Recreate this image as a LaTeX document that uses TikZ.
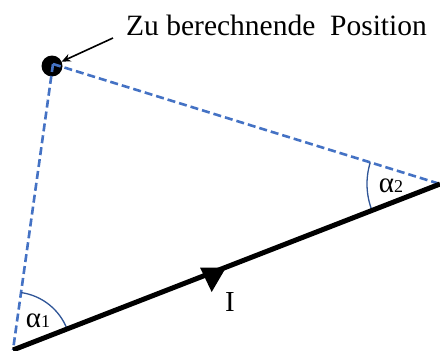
\documentclass[tikz,border=0pt]{standalone}
\usepackage{fontspec}
\setmainfont{Liberation Serif}
\usetikzlibrary{arrows.meta,calc}
\definecolor{dashblue}{HTML}{4472C4}
\definecolor{arcblue}{HTML}{2F5597}
\begin{document}
\begin{tikzpicture}[x=1pt,y=-1pt,
  dashline/.style={dashblue,line width=2.6pt,dash pattern=on 8pt off 4pt},
  anglearc/.style={arcblue,line width=1.3pt},
  lbl/.style={inner sep=0pt,font=\fontsize{29}{31}\selectfont}]
\useasboundingbox (0,0) rectangle (440,351);
\coordinate (A) at (13,350);
\coordinate (B) at (440,184);
\coordinate (P) at (53,64);
\node[circle,fill=black,minimum size=21pt,inner sep=0pt] (dot) at (52,66) {};
\draw[dashline] (P) -- (A);
\draw[dashline] (P) -- (B);
% angle arcs
\draw[anglearc] ($(A)+(-82:58)$) arc[start angle=-82,end angle=-21.2,radius=58];
\draw[anglearc] ($(B)+(197.2:73)$) arc[start angle=197.2,end angle=158.8,radius=73];
% thick line
\draw[line width=5pt] (A) -- (B);
\fill (200,267.5) -- (226,267.5) -- (211.7,292) -- cycle;
% label and pointer
\node[lbl,anchor=base west,font=\fontsize{29.5}{31}\selectfont] (txt) at (126,35) {Zu berechnende\ \ Position};
\coordinate (ptr) at (113,38);
\draw[line width=1.6pt,-{Stealth[length=9pt,width=8pt]}] (ptr) -- (dot);
\node[lbl] (a1) at (38,321) {α\fontsize{18}{20}\selectfont 1};
\node[lbl] (a2) at (391,186) {α\fontsize{18}{20}\selectfont 2};
\node[lbl] (I) at (230,302) {I};
\end{tikzpicture}
\end{document}
